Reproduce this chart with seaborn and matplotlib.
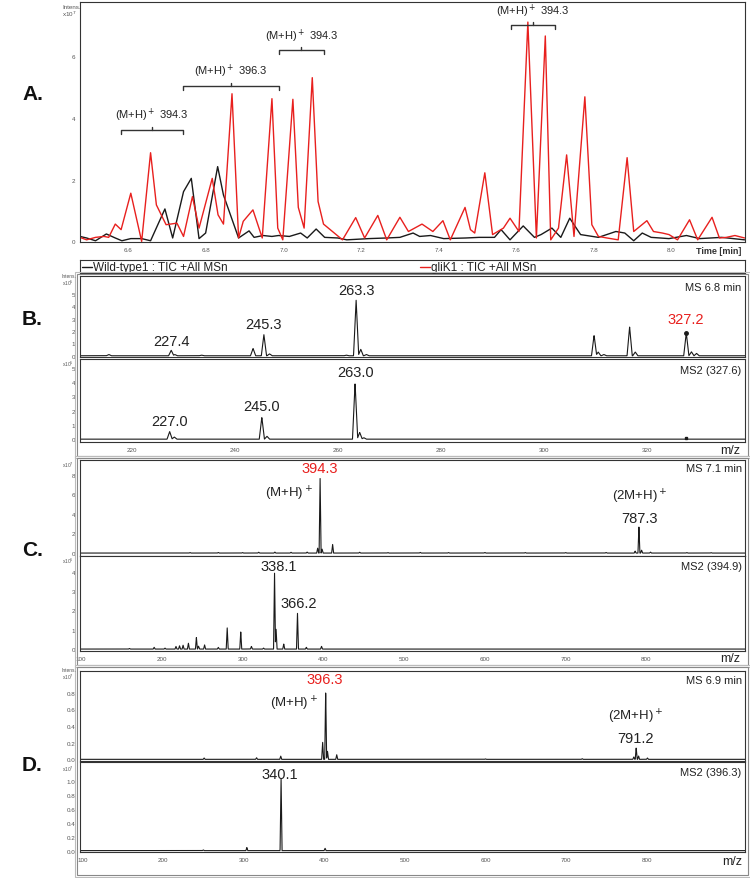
import numpy as np
import matplotlib
matplotlib.use('Agg')
import matplotlib.pyplot as plt
from matplotlib.patches import Rectangle
import seaborn as sns

sns.set_style('white')
plt.rcParams['font.family'] = ['Liberation Sans', 'DejaVu Sans']

# ---- A. TIC chromatograms (intensity x10^7) ----
wt_time = [6.475, 6.492, 6.515, 6.543, 6.566, 6.583, 6.606, 6.634, 6.657, 6.694,
           6.714, 6.742, 6.762, 6.782, 6.799, 6.830, 6.845, 6.884, 6.911, 6.924,
           6.947, 6.970, 6.987, 7.015, 7.044, 7.061, 7.084, 7.106, 7.140, 7.163,
           7.220, 7.266, 7.300, 7.334, 7.351, 7.379, 7.413, 7.470, 7.504, 7.544,
           7.561, 7.584, 7.618, 7.647, 7.664, 7.692, 7.715, 7.738, 7.766, 7.812,
           7.857, 7.880, 7.903, 7.925, 7.948, 7.994, 8.039, 8.073, 8.130, 8.189]
wt_int = [0.16, 0.11, 0.02, 0.24, 0.11, 0.02, 0.09, 0.09, 0.02, 1.05,
          0.11, 1.61, 2.04, 0.09, 0.27, 2.42, 1.50, 0.11, 0.34, 0.13,
          0.19, 0.16, 0.19, 0.16, 0.27, 0.11, 0.40, 0.13, 0.11, 0.05,
          0.09, 0.11, 0.13, 0.27, 0.16, 0.19, 0.09, 0.11, 0.13, 0.13,
          0.38, 0.05, 0.50, 0.13, 0.22, 0.43, 0.13, 0.75, 0.22, 0.13,
          0.32, 0.27, 0.02, 0.27, 0.13, 0.09, 0.19, 0.09, 0.13, 0.05]

glik_time = [6.475, 6.492, 6.515, 6.537, 6.549, 6.566, 6.581, 6.606, 6.634, 6.657,
             6.672, 6.697, 6.725, 6.742, 6.765, 6.782, 6.816, 6.831, 6.845, 6.867,
             6.884, 6.896, 6.921, 6.945, 6.970, 6.985, 6.998, 7.024, 7.038, 7.053,
             7.074, 7.089, 7.103, 7.152, 7.186, 7.209, 7.243, 7.266, 7.300, 7.322,
             7.357, 7.385, 7.411, 7.430, 7.468, 7.482, 7.493, 7.519, 7.539, 7.567,
             7.584, 7.607, 7.630, 7.652, 7.675, 7.689, 7.709, 7.730, 7.749, 7.777,
             7.795, 7.812, 7.834, 7.863, 7.886, 7.903, 7.937, 7.954, 7.977, 7.994,
             8.016, 8.047, 8.068, 8.105, 8.124, 8.142, 8.164, 8.189]
glik_int = [0.13, 0.05, 0.13, 0.16, 0.13, 0.56, 0.38, 1.56, 0.00, 2.87,
            1.18, 0.54, 0.59, 0.16, 1.45, 0.43, 2.04, 0.86, 0.56, 4.78,
            0.11, 0.65, 1.02, 0.11, 4.62, 0.43, 0.05, 4.60, 1.10, 0.43,
            5.30, 1.29, 0.56, 0.05, 0.77, 0.11, 0.84, 0.05, 0.78, 0.32,
            0.56, 0.32, 0.67, 0.05, 1.10, 0.38, 0.27, 2.22, 0.22, 0.43,
            0.75, 0.32, 7.10, 0.11, 6.65, 0.05, 0.43, 2.80, 0.16, 4.68,
            0.54, 0.16, 0.11, 0.05, 2.71, 0.32, 0.67, 0.32, 0.27, 0.22,
            0.05, 0.70, 0.05, 0.78, 0.11, 0.13, 0.19, 0.11]

bracket_start = [6.581, 6.740, 6.989, 7.586]
bracket_end = [6.740, 6.989, 7.103, 7.700]
bracket_y = [3.60, 5.03, 6.18, 6.99]
bracket_mz = ['394.3', '396.3', '394.3', '394.3']

# ---- B. MS / MS2 at 6.8 min (x10^5) ----
b_ms_mz = [215.5, 227.6, 228.3, 233.5, 243.5, 245.6, 246.7, 261.6, 263.5, 264.4,
           265.5, 309.7, 310.5, 311.6, 316.6, 317.7, 327.6, 328.6, 329.6]
b_ms_int = [0.1, 0.45, 0.1, 0.05, 0.59, 1.71, 0.15, 0.05, 4.55, 0.53,
            0.1, 1.66, 0.3, 0.1, 2.33, 0.3, 1.85, 0.32, 0.19]
b_ms2_mz = [227.3, 228.2, 245.2, 246.2, 263.3, 264.2, 265.0]
b_ms2_int = [0.54, 0.15, 1.53, 0.2, 3.94, 0.47, 0.1]

# ---- C. MS at 7.1 min (x10^7) and MS2 of 394.9 (x10^6) ----
c_ms_mz = [235, 270, 300, 320, 340, 360, 380, 393, 396, 398.5, 411.5, 445, 480, 520,
           555, 600, 650, 700, 750, 786, 790.7, 794, 805, 850, 880]
c_ms_int = [0.05, 0.06, 0.05, 0.08, 0.1, 0.08, 0.1, 0.5, 7.77, 0.4, 0.9, 0.08, 0.05, 0.07,
            0.05, 0.06, 0.05, 0.05, 0.06, 0.2, 2.7, 0.3, 0.1, 0.05, 0.04]
c_ms2_mz = [160, 190.6, 204, 217.6, 222, 226.4, 233, 242.9, 245.5, 253, 270, 281,
            297.8, 311, 326, 339.6, 341.5, 351, 368, 379, 397.8]
c_ms2_int = [0.03, 0.09, 0.05, 0.14, 0.17, 0.2, 0.3, 0.6, 0.15, 0.22, 0.09, 1.12,
             0.9, 0.14, 0.05, 4.0, 1.06, 0.26, 1.89, 0.09, 0.14]

# ---- D. MS at 6.9 min (x10^7) and MS2 of 396.3 (x10^7) ----
d_ms_mz = [251, 316, 346, 398, 401.8, 404, 415.5, 600, 720, 784, 787, 790, 801]
d_ms_int = [0.016, 0.02, 0.04, 0.21, 0.83, 0.1, 0.055, 0.005, 0.008, 0.03, 0.14, 0.04, 0.016]
d_ms2_mz = [250, 304, 346.4, 401]
d_ms2_int = [0.01, 0.045, 1.1, 0.035]

W, H = 750, 879
fig = plt.figure(figsize=(7.5, 8.79), dpi=100)


def add_ax(l, t, r, b):
    return fig.add_axes([l / W, 1 - b / H, (r - l) / W, (b - t) / H])


def style(ax):
    for s in ax.spines.values():
        s.set_linewidth(0.8)
        s.set_color('#333333')
    ax.tick_params(direction='out', length=2, width=0.6, labelsize=4.5,
                   colors='#555555', pad=1.5)
    ax.set_xlabel('')
    ax.set_ylabel('')


def profile(mz, inten, lo, hi, hw):
    x = np.linspace(lo, hi, 6000)
    y = np.zeros_like(x)
    for m, h in zip(mz, inten):
        y = np.maximum(y, h * np.clip(1 - np.abs(x - m) / hw, 0, None))
    return x, y


def spectrum(ax, mz, inten, lo, hi, hw, ylim):
    x, y = profile(mz, inten, lo, hi, hw)
    sns.lineplot(x=x, y=y, ax=ax, color='#1a1a1a', lw=0.8, estimator=None, sort=False)
    ax.set_xlim(lo, hi)
    ax.set_ylim(*ylim)
    style(ax)


def fig_text(x, y, s, **kw):
    fig.text(x / W, 1 - y / H, s, **kw)


# ---- Panel A ----
axA = add_ax(80, 3, 745, 243)
sns.lineplot(x=wt_time, y=wt_int, ax=axA, color='#1a1a1a', lw=1.0, estimator=None)
sns.lineplot(x=glik_time, y=glik_int, ax=axA, color='#e8201e', lw=1.0, estimator=None)
axA.set_xlim(6.475, 8.19)
axA.set_ylim(-0.02, 7.75)
axA.set_xticks(np.arange(6.6, 8.01, 0.2))
axA.set_xticklabels([f'{t:.1f}' for t in np.arange(6.6, 8.01, 0.2)])
axA.set_yticks([0, 2, 4, 6])
style(axA)
for x0, x1, yb, lab in zip(bracket_start, bracket_end, bracket_y, bracket_mz):
    xm = (x0 + x1) / 2
    axA.plot([x0, x0, x1, x1], [yb - 0.12, yb, yb, yb - 0.12], color='#333333', lw=1.0)
    axA.plot([xm, xm], [yb, yb + 0.1], color='#333333', lw=1.0)
    axA.text(xm, yb + 0.22, '(M+H)$^+$ ' + lab, ha='center', va='bottom', fontsize=8,
             color='#222222')
axA.text(0.995, -0.015, 'Time [min]', transform=axA.transAxes, ha='right', va='top',
         fontsize=6.5, fontweight='bold', color='#333333')
fig_text(62, 9, 'Intens.', fontsize=4.5, color='#555555')
fig_text(62, 17, 'x10$^7$', fontsize=4.5, color='#555555')

# legend strip
axL = add_ax(80, 261, 745, 274)
axL.set_xlim(0, 1)
axL.set_ylim(0, 1)
axL.set_xticks([])
axL.set_yticks([])
for s in axL.spines.values():
    s.set_linewidth(0.8)
    s.set_color('#333333')
axL.plot([0.003, 0.018], [0.45, 0.45], color='#1a1a1a', lw=1.0)
axL.text(0.019, 0.45, 'Wild-type1 : TIC +All MSn', va='center', fontsize=8.5, color='#222222')
axL.plot([0.512, 0.527], [0.45, 0.45], color='#e8201e', lw=1.0)
axL.text(0.528, 0.45, 'gliK1 : TIC +All MSn', va='center', fontsize=8.5, color='#222222')

# ---- Panel B ----
axB1 = add_ax(80, 277, 745, 358)
spectrum(axB1, b_ms_mz, b_ms_int, 209.9, 339, 0.5, (-0.1, 6.45))
axB1.plot([327.6], [1.85], 'o', color='#1a1a1a', ms=2.5)
axB1.set_xticks([220, 240, 260, 280, 300, 320])
axB1.set_xticklabels([])
axB1.set_yticks(range(6))
axB2 = add_ax(80, 360, 745, 443)
spectrum(axB2, b_ms2_mz, b_ms2_int, 209.9, 339, 0.5, (-0.2, 5.63))
axB2.plot([327.6], [0.1], 's', color='#1a1a1a', ms=2)
axB2.set_xticks([220, 240, 260, 280, 300, 320])
axB2.set_yticks(range(6))
for ax, txts in [(axB1, [(263.5, 5.3, '263.3', '#222222'), (245.6, 2.6, '245.3', '#222222'),
                         (227.7, 1.18, '227.4', '#222222'), (327.4, 3.0, '327.2', '#e8201e')]),
                 (axB2, [(263.3, 4.7, '263.0', '#222222'), (245.2, 2.36, '245.0', '#222222'),
                         (227.3, 1.3, '227.0', '#222222')])]:
    for x, y, s, c in txts:
        ax.text(x, y, s, ha='center', va='center', fontsize=10.5, color=c)
axB1.text(0.995, 0.92, 'MS 6.8 min', transform=axB1.transAxes, ha='right', va='top',
          fontsize=8, color='#222222')
axB2.text(0.995, 0.93, 'MS2 (327.6)', transform=axB2.transAxes, ha='right', va='top',
          fontsize=8, color='#222222')
fig_text(740, 451, 'm/z', fontsize=9, ha='right', va='center', color='#222222')
fig_text(62, 281, 'Intens.\nx10$^5$', fontsize=3.5, color='#555555', va='center', linespacing=0.9)
fig_text(62, 364, 'x10$^5$', fontsize=3.5, color='#555555', va='center')

# ---- Panel C ----
axC1 = add_ax(80, 461, 745, 557)
spectrum(axC1, c_ms_mz, c_ms_int, 98.8, 922, 1.2, (-0.3, 9.5))
axC1.set_xticks(range(100, 900, 100))
axC1.set_xticklabels([])
axC1.set_yticks([0, 2, 4, 6, 8])
axC2 = add_ax(80, 557, 745, 652)
spectrum(axC2, c_ms2_mz, c_ms2_int, 98.8, 922, 1.2, (-0.1, 4.8))
axC2.set_xticks(range(100, 900, 100))
axC2.set_yticks(range(5))
axC1.text(396, 8.7, '394.3', ha='center', va='center', fontsize=10.5, color='#e8201e')
axC1.text(357, 6.1, '(M+H)$^+$', ha='center', va='center', fontsize=9.5, color='#222222')
axC1.text(791, 5.8, '(2M+H)$^+$', ha='center', va='center', fontsize=9.5, color='#222222')
axC1.text(791, 3.6, '787.3', ha='center', va='center', fontsize=10.5, color='#222222')
axC2.text(345, 4.3, '338.1', ha='center', va='center', fontsize=10.5, color='#222222')
axC2.text(370, 2.4, '366.2', ha='center', va='center', fontsize=10.5, color='#222222')
axC1.text(0.995, 0.97, 'MS 7.1 min', transform=axC1.transAxes, ha='right', va='top',
          fontsize=8, color='#222222')
axC2.text(0.995, 0.95, 'MS2 (394.9)', transform=axC2.transAxes, ha='right', va='top',
          fontsize=8, color='#222222')
fig_text(740, 659, 'm/z', fontsize=9, ha='right', va='center', color='#222222')
fig_text(62, 465, 'x10$^7$', fontsize=3.5, color='#555555', va='center')
fig_text(62, 561, 'x10$^6$', fontsize=3.5, color='#555555', va='center')

# ---- Panel D ----
axD1 = add_ax(80, 672, 745, 762)
spectrum(axD1, d_ms_mz, d_ms_int, 97, 922, 1.2, (-0.02, 1.06))
axD1.set_xticks(range(100, 900, 100))
axD1.set_xticklabels([])
axD1.set_yticks([0, 0.2, 0.4, 0.6, 0.8])
axD1.set_yticklabels(['0.0', '0.2', '0.4', '0.6', '0.8'])
axD2 = add_ax(80, 763, 745, 853)
spectrum(axD2, d_ms2_mz, d_ms2_int, 97, 922, 1.2, (-0.02, 1.28))
axD2.set_xticks(range(100, 900, 100))
axD2.set_yticks([0, 0.2, 0.4, 0.6, 0.8, 1.0])
axD2.set_yticklabels(['0.0', '0.2', '0.4', '0.6', '0.8', '1.0'])
axD1.text(401, 0.96, '396.3', ha='center', va='center', fontsize=10.5, color='#e8201e')
axD1.text(363, 0.68, '(M+H)$^+$', ha='center', va='center', fontsize=9.5, color='#222222')
axD1.text(786, 0.52, '(2M+H)$^+$', ha='center', va='center', fontsize=9.5, color='#222222')
axD1.text(786, 0.26, '791.2', ha='center', va='center', fontsize=10.5, color='#222222')
axD2.text(345, 1.1, '340.1', ha='center', va='center', fontsize=10.5, color='#222222')
axD1.text(0.995, 0.95, 'MS 6.9 min', transform=axD1.transAxes, ha='right', va='top',
          fontsize=8, color='#222222')
axD2.text(0.995, 0.95, 'MS2 (396.3)', transform=axD2.transAxes, ha='right', va='top',
          fontsize=8, color='#222222')
fig_text(742, 862, 'm/z', fontsize=9, ha='right', va='center', color='#222222')
fig_text(62, 675, 'Intens.\nx10$^7$', fontsize=3.5, color='#555555', va='center', linespacing=0.9)
fig_text(62, 769, 'x10$^7$', fontsize=3.5, color='#555555', va='center')

# outer boxes
for (l, t, r, b) in [(77, 275, 748, 457), (77, 459, 748, 666), (77, 668, 748, 876)]:
    for off, c in [(0, '#888888'), (2, '#bbbbbb')]:
        fig.patches.append(Rectangle(((l - off) / W, 1 - (b + off) / H), (r - l + 2 * off) / W,
                                     (b - t + 2 * off) / H, transform=fig.transFigure,
                                     fill=False, lw=0.8, ec=c))

# panel letters
for lab, y in [('A.', 95), ('B.', 320), ('C.', 550), ('D.', 766)]:
    fig_text(22, y, lab, fontsize=15, fontweight='bold', va='center', color='#111111')

fig.savefig('out.png', dpi=100)
